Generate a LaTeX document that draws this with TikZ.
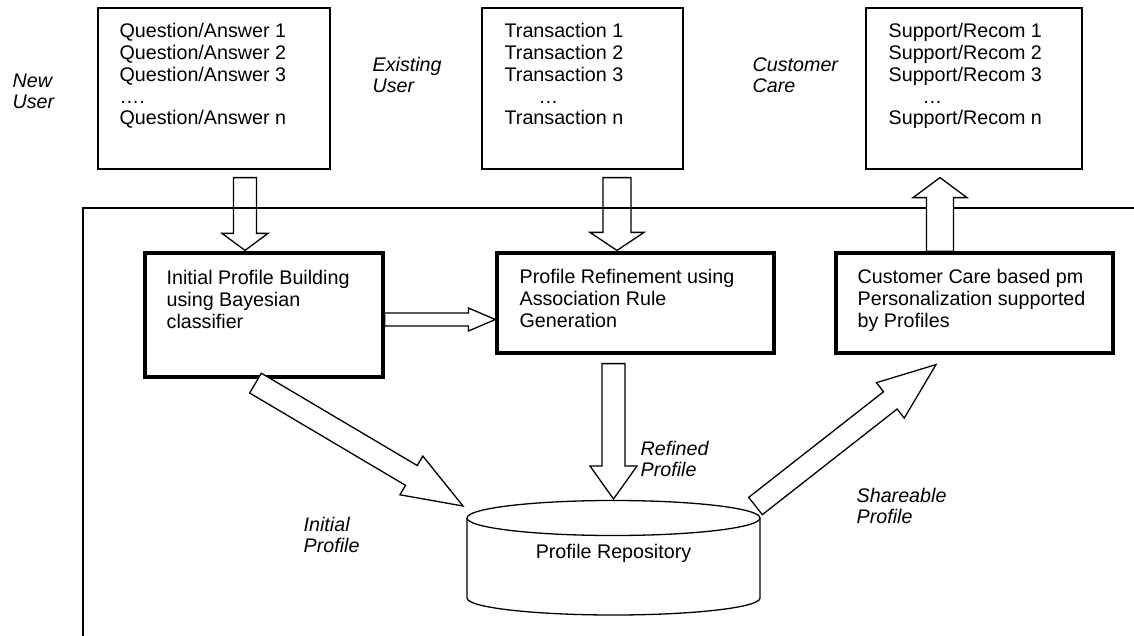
\documentclass[tikz,border=0pt]{standalone}
\usepackage{fontspec}
\setmainfont{Liberation Sans}
\usepackage{tikz}
\usetikzlibrary{calc}

% hollow block arrow: [opts] tail, tip, shaft half width, head half width, head length
\newcommand{\hollowarrow}[6][]{%
  \coordinate (hb) at ($(#3)!#6!(#2)$);
  \draw[#1] ($(#2)!#4!90:(#3)$) -- ($(hb)!#4!-90:(#2)$) -- ($(hb)!#5!-90:(#2)$)
    -- (#3) -- ($(hb)!#5!90:(#2)$) -- ($(hb)!#4!90:(#2)$) -- ($(#2)!#4!-90:(#3)$) -- cycle;
}

\begin{document}
\begin{tikzpicture}[x=1pt, y=-1pt, line width=1.3pt]
    \useasboundingbox (0,0) rectangle (1134,636);
    \tikzstyle{ListBox} = [draw, inner sep=0pt]
    \tikzstyle{StepBox} = [draw, line width=3.2pt, inner sep=0pt]
    % texts are placed by the baseline of their last line
    \tikzstyle{BoxText} = [anchor=base west, align=left, inner sep=0pt, font={\fontsize{19.7}{21.7}\selectfont}]
    \tikzstyle{StepText} = [BoxText, font={\fontsize{19.7}{22}\selectfont}]
    \tikzstyle{SideText} = [BoxText, font={\fontsize{19.7}{21}\selectfont\itshape}]

    % input lists
    \node[ListBox, minimum width=232, minimum height=161] (qa) at (214,88.5) {};
    \node[ListBox, minimum width=201, minimum height=161] (trans) at (582.5,88.5) {};
    \node[ListBox, minimum width=216, minimum height=161] (supp) at (974,88.5) {};
    \node[BoxText] (qatext) at (119,124.8) {Question/Answer 1\\Question/Answer 2\\Question/Answer 3\\….\\Question/Answer n};
    \node[BoxText] (transtext) at (504,124.8) {Transaction 1\\Transaction 2\\Transaction 3\\\hspace{34pt}…\\Transaction n};
    \node[BoxText] (supptext) at (888,124.8) {Support/Recom 1\\Support/Recom 2\\Support/Recom 3\\\hspace{34pt}…\\Support/Recom n};

    \node[SideText] (newuser) at (12,109) {New\\User};
    \node[SideText] (olduser) at (372,93) {Existing\\User};
    \node[SideText] (custcare) at (752,93) {Customer\\Care};

    % processing steps
    \node[StepBox, minimum width=238, minimum height=124] (init) at (264,315) {};
    \node[StepBox, minimum width=277, minimum height=100] (refine) at (635.5,303) {};
    \node[StepBox, minimum width=277, minimum height=100] (care) at (974.5,303) {};
    \node[StepText] (inittext) at (166,328) {Initial Profile Building\\using Bayesian\\classifier};
    \node[StepText] (refinetext) at (519,327) {Profile Refinement using\\Association Rule\\Generation};
    \node[StepText] (caretext) at (857,327) {Customer Care based pm\\Personalization supported\\by Profiles};

    % repository
    \draw (467,518) -- (467,598) arc[start angle=180, end angle=360, x radius=146.5pt, y radius=17pt] -- (760,518);
    \draw (613.5,518) ellipse [x radius=146.5pt, y radius=17.5pt];
    \node[font={\fontsize{19.7}{22}\selectfont}, anchor=base] (repo) at (613.5,558) {Profile Repository};
    \coordinate (repotop) at (613.5,499);
    \coordinate (repoleft) at (463,506);
    \coordinate (reporight) at (755.5,506);

    \node[SideText] (refined) at (640,476) {Refined\\Profile};
    \node[SideText] (initial) at (303,552) {Initial\\Profile};
    \node[SideText] (shareable) at (856,523) {Shareable\\Profile};

    % block arrows
    \hollowarrow[fill=white]{$(qa.south)+(31,8)$}{$(init.north)+(-19,-1)$}{11.5pt}{23pt}{17pt}
    \hollowarrow[fill=white]{$(trans.south)+(34.5,8)$}{$(refine.north)+(-18.5,-1)$}{14pt}{27pt}{18pt}
    \draw (83,636) -- (83,208) -- (1134,208);
    \hollowarrow[fill=white]{$(care.north)+(-34.5,0)$}{$(supp.south)+(-34,8)$}{13.5pt}{27pt}{20pt}
    \hollowarrow[fill=white]{$(init.east)+(0,4.5)$}{$(refine.west)+(0,16.5)$}{6.5pt}{11.5pt}{27pt}
    \hollowarrow[fill=white]{$(refine.south)+(-22,9)$}{repotop}{11.5pt}{23.5pt}{33pt}
    \hollowarrow[fill=white]{$(init.south)+(-8.5,4.5)$}{repoleft}{11.5pt}{22.5pt}{60pt}
    \hollowarrow[fill=white]{reporight}{$(care.south)+(-38.5,10)$}{11pt}{22.5pt}{58pt}
\end{tikzpicture}
\end{document}
